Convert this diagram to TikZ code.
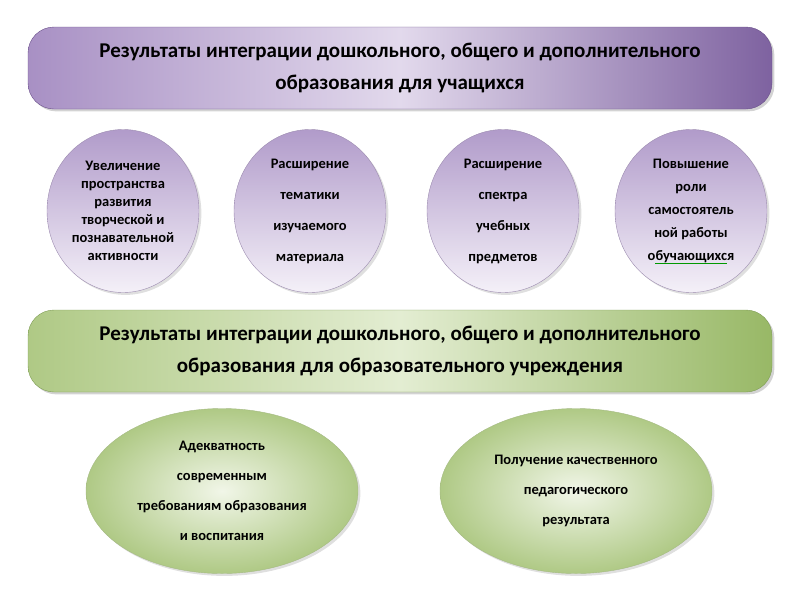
\documentclass[tikz,border=0pt]{standalone}
\usepackage{fontspec}
\setmainfont{Carlito}
\usepackage{xcolor}
\usetikzlibrary{shapes.geometric,shadows}

\definecolor{lilacdark}{HTML}{7E62A0}
\definecolor{lilacmid}{HTML}{A890C4}
\definecolor{lilaclight}{HTML}{E2D9EC}
\definecolor{lilacpale}{HTML}{F4F0F8}
\definecolor{lilacline}{HTML}{6A4F8A}
\definecolor{greendark}{HTML}{98B866}
\definecolor{greenmid}{HTML}{AFC985}
\definecolor{greenlight}{HTML}{E3EDD2}
\definecolor{greenpale}{HTML}{F1F6E8}
\definecolor{greenline}{HTML}{7E9C55}

\begin{document}
\begin{tikzpicture}[x=1pt, y=-1pt,
    banner/.style={rounded corners=26pt, minimum width=744pt, minimum height=82pt,
        inner sep=0pt, align=center, drop shadow={opacity=0.35},
        font=\bfseries\fontsize{21}{32}\selectfont},
    violetbanner/.style={banner, draw=lilacline, left color=lilacmid, right color=lilacdark, middle color=lilaclight},
    greenbanner/.style={banner, draw=greenline, left color=greenmid, right color=greendark, middle color=greenlight},
    bubble/.style={ellipse, minimum width=152pt, minimum height=163pt, inner sep=0pt,
        align=center, draw=lilacmid!70!gray, top color=lilacmid!90, bottom color=lilacpale,
        drop shadow={opacity=0.25}},
    oval/.style={ellipse, minimum width=272pt, minimum height=165pt, inner sep=0pt,
        align=center, draw=greenmid!80!gray, inner color=greenpale, outer color=greenmid,
        drop shadow={opacity=0.25}, font=\bfseries\fontsize{14.5}{30}\selectfont}]

    \useasboundingbox (0,0) rectangle (800,600);

    \node[violetbanner] (pupils) at (400,68)
        {Результаты интеграции дошкольного, общего и дополнительного\\образования для учащихся};

    \node[bubble, font=\bfseries\fontsize{14.5}{18}\selectfont] (space) at (123,211)
        {Увеличение\\пространства\\развития\\творческой и\\познавательной\\активности};
    \node[bubble, font=\bfseries\fontsize{14.5}{31}\selectfont] (topics) at (310,211)
        {Расширение\\тематики\\изучаемого\\материала};
    \node[bubble, font=\bfseries\fontsize{14.5}{31}\selectfont] (subjects) at (503,211)
        {Расширение\\спектра\\учебных\\предметов};
    \node[bubble, font=\bfseries\fontsize{14.5}{23}\selectfont] (selfwork) at (691,211)
        {Повышение\\роли\\самостоятель\\ной работы\\обучающихся};
    \draw[green!60!black, line width=0.8pt] ([xshift=-36pt, yshift=-52pt]selfwork.center) -- ++(72,0);

    \node[greenbanner] (school) at (400,351)
        {Результаты интеграции дошкольного, общего и дополнительного\\образования для образовательного учреждения};

    \node[oval] (demands) at (222,491)
        {Адекватность\\современным\\требованиям образования\\и воспитания};
    \node[oval] (result) at (576,491)
        {Получение качественного\\педагогического\\результата};
\end{tikzpicture}
\end{document}
